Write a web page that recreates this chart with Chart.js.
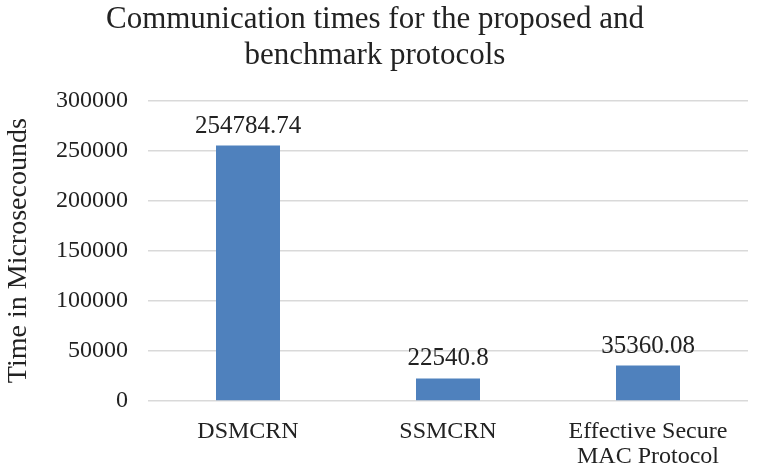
<!DOCTYPE html>
<html>
<head>
<meta charset="utf-8">
<script src="https://cdn.jsdelivr.net/npm/chart.js@4"></script>
<style>
  html, body { margin: 0; padding: 0; background: #fff; }
  #wrap { width: 763px; height: 469px; }
</style>
</head>
<body>
<div id="wrap"><canvas id="grafico" width="763" height="469"></canvas></div>
<script>
// datos del grafico
const protocolos = [['DSMCRN'], ['SSMCRN'], ['Effective Secure', 'MAC Protocol']];
const tiempos = [254784.74, 22540.8, 35360.08];
const etiquetas = ['254784.74', '22540.8', '35360.08'];
const ticksY = [0, 50000, 100000, 150000, 200000, 250000, 300000];

const fuente = "'Liberation Serif', 'Times New Roman', serif";

// etiquetas encima de cada barra
const etiquetasBarras = {
    id: 'etiquetasBarras',
    afterDatasetsDraw(chart) {
        const ctx = chart.ctx;
        const meta = chart.getDatasetMeta(0);
        ctx.save();
        ctx.font = '25px ' + fuente;
        ctx.fillStyle = '#222';
        ctx.textAlign = 'center';
        ctx.textBaseline = 'alphabetic';
        meta.data.forEach((bar, i) => {
            ctx.fillText(etiquetas[i], bar.x, bar.y - 13);
        });
        ctx.restore();
    }
};

const ctx = document.getElementById('grafico').getContext('2d');
new Chart(ctx, {
    type: 'bar',
    data: {
        labels: protocolos,
        datasets: [{
            label: 'Tiempo',
            data: tiempos,
            backgroundColor: '#4f81bd',
            borderWidth: 0,
            categoryPercentage: 1,
            barPercentage: 0.32
        }]
    },
    options: {
        responsive: false,
        animation: false,
        layout: { padding: { left: 2, right: 15, top: 2, bottom: 0 } },
        plugins: {
            legend: { display: false },
            tooltip: { enabled: false },
            title: {
                display: true,
                text: ['Communication times for the proposed and', 'benchmark protocols'],
                font: { family: fuente, size: 31, weight: 'normal', lineHeight: 1.15 },
                color: '#222',
                padding: { top: 0, bottom: 27 }
            }
        },
        scales: {
            y: {
                min: 0,
                max: 300000,
                afterBuildTicks: s => { s.ticks = ticksY.map(v => ({ value: v })); },
                afterFit: s => { s.width = 146; },
                border: { display: false },
                grid: { color: '#d9d9d9', lineWidth: 1.5, drawTicks: false },
                ticks: {
                    padding: 20,
                    color: '#222',
                    font: { family: fuente, size: 24 },
                    callback: v => String(v)
                },
                title: {
                    display: true,
                    text: 'Time in Microsecounds',
                    color: '#222',
                    font: { family: fuente, size: 28 },
                    padding: { top: 0, bottom: 0 }
                }
            },
            x: {
                afterFit: s => { s.height = 68; },
                border: { display: false },
                grid: { display: false, drawTicks: false },
                ticks: {
                    padding: 18,
                    color: '#222',
                    font: { family: fuente, size: 24, lineHeight: 1.05 },
                    maxRotation: 0
                }
            }
        }
    },
    plugins: [etiquetasBarras]
});
</script>
</body>
</html>
